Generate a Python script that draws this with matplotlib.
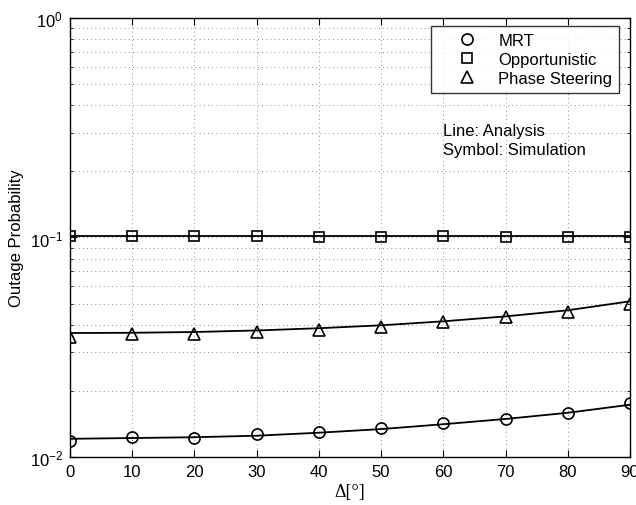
import numpy as np
import matplotlib
matplotlib.use('Agg')
import matplotlib.pyplot as plt
from matplotlib.ticker import LogLocator, NullFormatter

plt.rcParams['font.family'] = ['Liberation Sans', 'DejaVu Sans']
plt.rcParams['mathtext.fontset'] = 'custom'
plt.rcParams['mathtext.rm'] = 'Liberation Sans'
plt.rcParams['mathtext.default'] = 'regular'

# ---- data ----
delta = [0, 10, 20, 30, 40, 50, 60, 70, 80, 90]

# analysis (lines)
mrt_ana = [0.0121, 0.0122, 0.0123, 0.0125, 0.0129, 0.0134, 0.0141, 0.0149, 0.0159, 0.0173]
opp_ana = [0.102] * 10
ps_ana = [0.0367, 0.0368, 0.0371, 0.0377, 0.0386, 0.0398, 0.0415, 0.0437, 0.0466, 0.0512]

# simulation (symbols)
mrt_sim = [0.01186, 0.0123, 0.0122, 0.0127, 0.0130, 0.0135, 0.0143, 0.0149, 0.0159, 0.0176]
opp_sim = [0.102, 0.102, 0.102, 0.102, 0.101, 0.101, 0.102, 0.100, 0.101, 0.101]
ps_sim = [0.0353, 0.0362, 0.0362, 0.0370, 0.0380, 0.0393, 0.0414, 0.0432, 0.0456, 0.0499]

FS = 12

fig = plt.figure(figsize=(6.36, 5.06), dpi=100)
ax = fig.add_axes([0.110, 0.0949, 0.8806, 0.8676])

# lines
ax.plot(delta, mrt_ana, 'k-', lw=1.3)
ax.plot(delta, opp_ana, 'k-', lw=1.3)
ax.plot(delta, ps_ana, 'k-', lw=1.3)

# symbols
mk = dict(ls='none', mfc='none', mec='k', mew=1.2, ms=8)
ax.plot(delta, mrt_sim, marker='o', label='MRT', **mk)
ax.plot(delta, opp_sim, marker='s', label='Opportunistic', **dict(mk, ms=6.5))
ax.plot(delta, ps_sim, marker='^', label='Phase Steering', **mk)

ax.set_yscale('log')
ax.set_xlim(0, 90)
ax.set_ylim(1e-2, 1)
ax.set_xticks(delta)
ax.yaxis.set_major_locator(LogLocator(base=10, numticks=5))
ax.yaxis.set_minor_locator(LogLocator(base=10, subs=np.arange(2, 10), numticks=20))
ax.yaxis.set_minor_formatter(NullFormatter())

ax.grid(True, which='major', ls=(0, (1, 4)), color='k', lw=0.6, alpha=0.6)
ax.grid(True, which='minor', axis='y', ls=(0, (1, 4)), color='k', lw=0.6, alpha=0.6)

ax.tick_params(which='both', direction='in', top=True, right=True, labelsize=FS)
ax.tick_params(which='major', length=5, width=0.8, pad=5)
ax.tick_params(which='minor', length=2.5, width=0.6)
for s in ax.spines.values():
    s.set_linewidth(1.0)

ax.set_xlabel('Δ[°]', fontsize=FS + 1, family=['Liberation Serif', 'DejaVu Serif'], labelpad=3)
ax.set_ylabel('Outage Probability', fontsize=FS, labelpad=4)

leg = ax.legend(loc='upper right', bbox_to_anchor=(0.980, 0.9818), fontsize=FS,
                frameon=True, fancybox=False, edgecolor='k', handletextpad=0.05,
                borderpad=0.4, labelspacing=0.25, handlelength=3.6, borderaxespad=0)
leg.get_frame().set_linewidth(1.0)

ax.text(0.666, 0.76, 'Line: Analysis\nSymbol: Simulation', transform=ax.transAxes,
        fontsize=FS, va='top', ha='left', linespacing=1.3)

fig.savefig('out.png', dpi=100)
